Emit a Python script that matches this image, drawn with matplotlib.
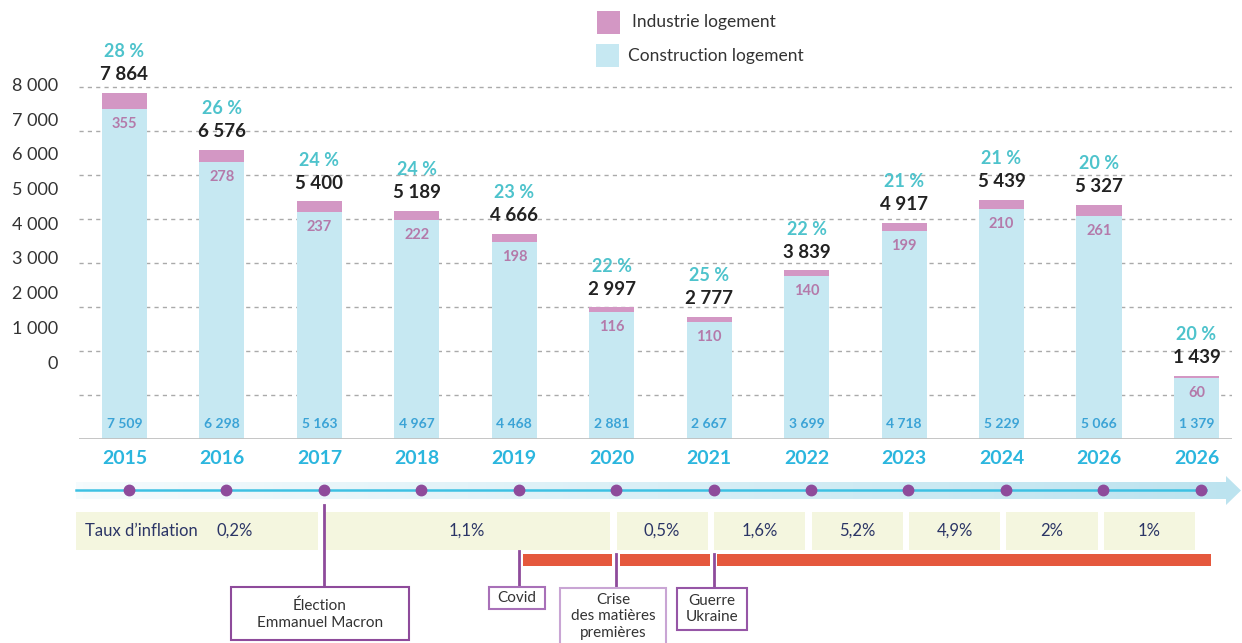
import numpy as np
import matplotlib
matplotlib.use("Agg")
import matplotlib.pyplot as plt
from matplotlib.patches import Rectangle, Polygon
from matplotlib.colors import LinearSegmentedColormap

plt.rcParams['font.family'] = ['Lato', 'DejaVu Sans']

# data
years = ['2015', '2016', '2017', '2018', '2019', '2020', '2021', '2022', '2023', '2024', '2026', '2026']
construction = [7509, 6298, 5163, 4967, 4468, 2881, 2667, 3699, 4718, 5229, 5066, 1379]
industrie = [355, 278, 237, 222, 198, 116, 110, 140, 199, 210, 261, 60]
parts = [28, 26, 24, 24, 23, 22, 25, 22, 21, 21, 20, 20]
y_labels = ['8 000', '7 000', '6 000', '5 000', '4 000', '3 000', '2 000', '1 000', '0']
grid_values = [1000, 2000, 3000, 4000, 5000, 6000, 7000, 8000]

# inflation periods: (from year index, to year index, label)
inflation = [(-0.5, 2, '0,2%'), (2, 5, '1,1%'), (5, 6, '0,5%'), (6, 7, '1,6%'),
             (7, 8, '5,2%'), (8, 9, '4,9%'), (9, 10, '2%'), (10, 11, '1%')]
# events: (year index, label)
events = [(2, 'Élection\nEmmanuel Macron'), (4, 'Covid'),
          (5, 'Crise\ndes matières\npremières'), (6, 'Guerre\nUkraine')]

BLUE = '#c6e8f2'
PINK = '#d397c4'
PURPLE = '#8e4b9b'

W, H = 1242, 643
X0, STEP = 124.5, 97.45          # pixel position of first bar, bar spacing
PX_PER_UNIT = 0.044


def px2x(px):
    return (px - X0) / STEP


fig = plt.figure(figsize=(W / 100, H / 100), dpi=100)

# ---- bar chart ----
ax = fig.add_axes([79 / W, 1 - 439 / H, (1232 - 79) / W, 439 / H])
idx = np.arange(len(years))
totals = [c + i for c, i in zip(construction, industrie)]

ax.bar(idx, construction, width=0.462, color=BLUE, zorder=2)
ax.bar(idx, industrie, bottom=construction, width=0.462, color=PINK, zorder=2)

for i in idx:
    ax.annotate(f"{parts[i]} %", (i, totals[i]), xytext=(0, 41), textcoords='offset pixels',
                ha='center', va='center', fontsize=13, fontweight='bold', color='#4ec3cc')
    ax.annotate(f"{totals[i]:,}".replace(',', ' '), (i, totals[i]), xytext=(0, 18),
                textcoords='offset pixels', ha='center', va='center', fontsize=13.5,
                fontweight='bold', color='#222222')
    ax.annotate(str(industrie[i]), (i, construction[i]), xytext=(0, -15),
                textcoords='offset pixels', ha='center', va='center', fontsize=10.5,
                fontweight='bold', color='#b47aaa', zorder=3)
    ax.annotate(f"{construction[i]:,}".replace(',', ' '), (i, 0), xytext=(0, 15),
                textcoords='offset pixels', ha='center', va='center', fontsize=10,
                fontweight='bold', color='#3ba3d6', zorder=3)

ax.set_xlim(px2x(79), px2x(1232))
ax.set_ylim(0, 439 / PX_PER_UNIT)
ax.set_yticks(grid_values)
ax.yaxis.grid(True, color='#aaaaaa', linestyle=(0, (3, 3)), linewidth=1)
ax.set_axisbelow(True)
ax.tick_params(axis='y', length=0, labelleft=False)
ax.set_xticks(idx)
ax.set_xticklabels(years, fontsize=14, fontweight='bold', color='#2bb6de')
ax.tick_params(axis='x', length=0, pad=8)
for s in ax.spines.values():
    s.set_visible(False)
ax.axhline(0, color='#c0c0c0', lw=2, zorder=3)

# ---- timeline ----
bx = fig.add_axes([0, 0, 1, (643 - 460) / H])
bx.axis('off')

xl, xh, xt = px2x(76), px2x(1226), px2x(1241)
cmap = LinearSegmentedColormap.from_list('band', ['#f5fbfd', '#bce3ef'])
grad = np.linspace(0, 1, 256).reshape(1, -1)
im = bx.imshow(grad, extent=[xl, xt, 505, 476], aspect='auto', cmap=cmap,
               interpolation='bilinear', zorder=1)
arrow = Polygon([(xl, 482), (xh, 482), (xh, 476), (xt, 490.5), (xh, 505), (xh, 499), (xl, 499)],
                closed=True, transform=bx.transData, fc='none', ec='none')
bx.add_patch(arrow)
im.set_clip_path(arrow)

bx.plot([xl, px2x(1206)], [490, 490], color='#3ec1e3', lw=1.8, zorder=2)
bx.plot(idx + 0.045, [490] * len(idx), 'o', color=PURPLE, ms=7.5, zorder=3)

for k, (a, b, lab) in enumerate(inflation):
    x0 = a if k == 0 else a + 0.05
    x1 = b - 0.015
    bx.add_patch(Rectangle((x0, 512), x1 - x0, 38, fc='#f4f6df', ec='none', zorder=1))
    tx = 1.13 if k == 0 else (x0 + x1) / 2
    bx.text(tx, 531, lab, ha='center', va='center', fontsize=12, color='#2b3566')
bx.text(px2x(85), 531, 'Taux d’inflation', ha='left', va='center', fontsize=12, color='#2b3566')

# orange period bars starting at Covid
ev_x = [e[0] + 0.045 for e in events]
segs = [(ev_x[1] + 0.04, ev_x[2] - 0.04), (ev_x[2] + 0.04, ev_x[3] - 0.04), (ev_x[3] + 0.04, px2x(1211))]
for a, b in segs:
    bx.add_patch(Rectangle((a, 554), b - a, 12, fc='#e5583d', ec='none', zorder=2))

# event boxes: (left px, right px, top, bottom, line top, text centre, edge colour)
boxes = [(231, 409, 587, 640, 505, 614.5, PURPLE), (489, 545, 587, 609, 551, 598, '#a870b8'),
         (560, 666, 588, 650, 554, 616.5, '#c9a5d4'), (677, 747, 588, 630, 554, 609, '#9656a6')]
for (pos, lab), (l, r, t, btm, lt, ty, ec) in zip(events, boxes):
    x = pos + 0.045
    bx.plot([x, x], [lt, t], color=PURPLE, lw=2, zorder=3)
    bx.add_patch(Rectangle((px2x(l), t), px2x(r) - px2x(l), btm - t, fc='white', ec=ec,
                           lw=1.5, zorder=3))
    bx.text((px2x(l) + px2x(r)) / 2, ty, lab, ha='center', va='center',
            fontsize=11, color='#333333', linespacing=1.25, zorder=4)

bx.set_xlim(px2x(0), px2x(W))
bx.set_ylim(643, 460)

# ---- overlay: y labels and legend ----
ov = fig.add_axes([0, 0, 1, 1])
ov.set_xlim(0, W)
ov.set_ylim(H, 0)
ov.axis('off')
ov.patch.set_alpha(0)
for k, lab in enumerate(y_labels):
    ov.text(58, 86 + 34.7 * k, lab, ha='right', va='center', fontsize=13, color='#333333')

ov.add_patch(Rectangle((597, 11), 23, 23, fc=PINK, ec='none'))
ov.text(632, 22, 'Industrie logement', ha='left', va='center', fontsize=12.5, color='#333333')
ov.add_patch(Rectangle((596, 44), 23, 23, fc=BLUE, ec='none'))
ov.text(628, 56, 'Construction logement', ha='left', va='center', fontsize=12.5, color='#333333')

fig.savefig('out.png', dpi=100)
